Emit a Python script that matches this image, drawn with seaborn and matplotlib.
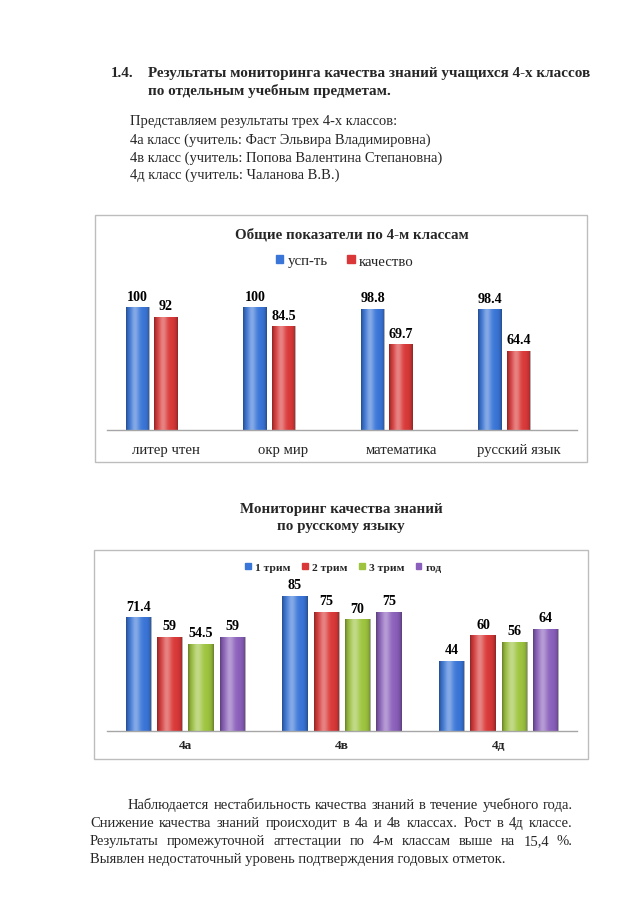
import matplotlib
matplotlib.use('Agg')
import matplotlib.pyplot as plt
import seaborn as sns
import pandas as pd
import numpy as np
from matplotlib.patches import Rectangle, Patch

W, H = 638, 903
FONT = 'Liberation Serif'

# ---------------- data ----------------
subjects = ['литер чтен', 'окр мир', 'математика', 'русский язык']
series1 = ['усп-ть', 'качество']
uspevaemost = [100, 100, 98.8, 98.4]
kachestvo = [92, 84.5, 69.7, 64.4]
chart1_title = 'Общие показатели по 4-м классам'

classes = ['4а', '4в', '4д']
periods = ['1 трим', '2 трим', '3 трим', 'год']
trim1 = [71.4, 85, 44]
trim2 = [59, 75, 60]
trim3 = [54.5, 70, 56]
god = [59, 75, 64]
chart2_title = ['Мониторинг качества знаний', 'по русскому языку']

heading_num = '1.4.'
heading = ['Результаты мониторинга качества знаний учащихся 4-х классов',
           'по отдельным учебным предметам.']
intro = ['Представляем результаты трех 4-х классов:',
         '4а класс (учитель: Фаст Эльвира Владимировна)',
         '4в класс (учитель: Попова Валентина Степановна)',
         '4д класс (учитель: Чаланова В.В.)']
conclusion = ['Наблюдается нестабильность качества знаний в течение учебного года.',
              'Снижение качества знаний происходит в 4а и 4в классах. Рост в 4д классе.',
              'Результаты промежуточной аттестации по 4-м классам выше на 15,4 %.',
              'Выявлен недостаточный уровень подтверждения годовых отметок.']

colors1 = ['#3A76D8', '#DA3838']
colors2 = ['#3A76D8', '#DA3838', '#9EC43F', '#8A60BC']

# ---------------- setup ----------------
sns.set_theme(style='white')
plt.rcParams['font.family'] = [FONT, 'DejaVu Serif']

fig = plt.figure(figsize=(W / 100, H / 100), dpi=100)
fig.patch.set_facecolor('white')
renderer = fig.canvas.get_renderer()


def fx(x):
    return x / W


def fy(y):
    return 1 - y / H


def text_w(s, size, weight='normal'):
    t = fig.text(0, 0, s, fontsize=size, fontweight=weight)
    w = t.get_window_extent(renderer).width
    t.remove()
    return w


def size_for(s, width, weight='normal'):
    return 10 * width / text_w(s, 10, weight)


def put(s, x, y, size, weight='normal', ha='left'):
    # y is the visual centre of the line; place on a baseline
    base = y + 0.30 * size * 100 / 72
    fig.text(fx(x), fy(base), s, fontsize=size, fontweight=weight, ha=ha, va='baseline')


def justify(s, x0, x1, y, size, weight='normal'):
    words = s.split(' ')
    widths = [text_w(w, size, weight) for w in words]
    gap = (x1 - x0 - sum(widths)) / (len(words) - 1)
    x = x0
    for w, wd in zip(words, widths):
        put(w, x, y, size, weight)
        x += wd + gap


def shade(ax):
    n = 64
    t = np.linspace(0, 1, n)
    hl = 0.38 * np.exp(-((t - 0.38) / 0.18) ** 2)
    dk = 0.35 * (np.abs(t - 0.5) * 2) ** 5
    img = np.zeros((1, n, 4))
    a = hl + dk
    img[0, :, 0] = img[0, :, 1] = img[0, :, 2] = hl / np.maximum(a, 1e-6)
    img[0, :, 3] = a
    for bar in list(ax.patches):
        x, y, w, h = bar.get_x(), bar.get_y(), bar.get_width(), bar.get_height()
        im = ax.imshow(img, extent=(x, x + w, y, y + h), aspect='auto',
                       zorder=bar.get_zorder() + 0.1, interpolation='bilinear')
        im.set_clip_path(bar)


def label_bars(ax, size, off_pt):
    for cont in ax.containers:
        for bar in cont:
            h = bar.get_height()
            ax.annotate(f'{h:g}', (bar.get_x() + bar.get_width() / 2, h),
                        xytext=(0, off_pt), textcoords='offset points',
                        ha='center', va='center', fontsize=size,
                        fontweight='bold', color='black', annotation_clip=False)


def style_axis(ax):
    ax.patch.set_visible(False)
    for s in ['left', 'top', 'right']:
        ax.spines[s].set_visible(False)
    ax.spines['bottom'].set_color('#a6a6a6')
    ax.spines['bottom'].set_linewidth(1.0)
    ax.set_yticks([])
    ax.set_xlabel('')
    ax.set_ylabel('')


def box(x0, y0, x1, y1):
    fig.add_artist(Rectangle((fx(x0), fy(y1)), fx(x1) - fx(x0), (y1 - y0) / H,
                             transform=fig.transFigure, fill=False,
                             ec='#bdbdbd', lw=1.0))

# ---------------- page text ----------------
hs = size_for(heading[0], 444, 'bold')
put(heading_num, 111, 72, hs, 'bold')
put(heading[0], 148, 72, hs, 'bold')
put(heading[1], 148, 90, hs, 'bold')

isz = size_for(intro[0], 268)
for s, y in zip(intro, [121, 139.5, 157.5, 174.5]):
    put(s, 130, y, isz)

csz = size_for(conclusion[3], 420)
cy = [805, 823, 841, 859]
justify(conclusion[0], 128, 573, cy[0], csz)
justify(conclusion[1], 90, 573, cy[1], csz)
justify(conclusion[2], 90, 573, cy[2], csz)
put(conclusion[3], 90, cy[3], csz)

# ---------------- chart 1 ----------------
box(95, 216, 587, 463)
df1 = pd.DataFrame({
    'subject': subjects * 2,
    'series': [series1[0]] * len(subjects) + [series1[1]] * len(subjects),
    'value': uspevaemost + kachestvo,
})
top1 = 431 - 120 * 1.228
ax1 = fig.add_axes([fx(107), fy(431), fx(577) - fx(107), (431 - top1) / H])
sns.barplot(data=df1, x='subject', y='value', hue='series', hue_order=series1,
            order=subjects, palette=colors1, width=0.48, gap=0.17,
            saturation=1, linewidth=0, ax=ax1, legend=False)
shade(ax1)
style_axis(ax1)
ax1.set_ylim(0, 120)
left1 = -(151.8 - 107) / 117.5
ax1.set_xlim(left1, left1 + 4)
ax1.set_xticks(np.arange(len(subjects)) + 0.12)
tsz1 = size_for(subjects[0], 68)
ax1.set_xticklabels(subjects, fontsize=tsz1)
for lbl in ax1.get_xticklabels():
    lbl.set_va('center')
ax1.tick_params(axis='x', length=0, pad=13.7)
vsz = size_for('98.8', 24.5, 'bold')
label_bars(ax1, vsz, 8)

fig.text(fx(351.5), fy(235), chart1_title, fontsize=size_for(chart1_title, 233, 'bold'),
         fontweight='bold', ha='center', va='center')
lsz1 = size_for(series1[1], 55)
fig.legend(handles=[Patch(color=c, label=l) for c, l in zip(colors1, series1)],
           loc='center', bbox_to_anchor=(fx(345), fy(262)), ncol=2, frameon=False,
           fontsize=lsz1, handlelength=0.5, handleheight=0.5, handletextpad=0.3,
           columnspacing=1.3, borderaxespad=0, borderpad=0)

# ---------------- chart 2 ----------------
t2sz = size_for(chart2_title[0], 203, 'bold')
fig.text(fx(341), fy(509.3), chart2_title[0], fontsize=t2sz, fontweight='bold',
         ha='center', va='center')
fig.text(fx(341), fy(526.7), chart2_title[1], fontsize=t2sz, fontweight='bold',
         ha='center', va='center')

box(94, 551, 588, 760)
vals2 = [trim1, trim2, trim3, god]
df2 = pd.DataFrame({
    'cls': classes * len(periods),
    'period': [p for p in periods for _ in classes],
    'value': [v for arr in vals2 for v in arr],
})
top2 = 731.5 - 90 * 1.586
ax2 = fig.add_axes([fx(107), fy(731.5), fx(577) - fx(107), (731.5 - top2) / H])
sns.barplot(data=df2, x='cls', y='value', hue='period', hue_order=periods,
            order=classes, palette=colors2, width=0.8, gap=0.2,
            saturation=1, linewidth=0, ax=ax2, legend=False)
shade(ax2)
style_axis(ax2)
ax2.set_ylim(0, 90)
ax2.set_xlim(-0.5, 2.5)
ax2.set_xticks(np.arange(len(classes)))
ax2.set_xticklabels(classes, fontsize=9.6, fontweight='bold')
for lbl in ax2.get_xticklabels():
    lbl.set_va('center')
ax2.tick_params(axis='x', length=0, pad=10.5)
label_bars(ax2, size_for('54.5', 24.5, 'bold'), 8)

lsz2 = size_for(periods[0], 35, 'bold')
fig.legend(handles=[Patch(color=c, label=l) for c, l in zip(colors2, periods)],
           loc='center', bbox_to_anchor=(fx(343.5), fy(568.3)), ncol=4, frameon=False,
           prop={'family': FONT, 'weight': 'bold', 'size': lsz2},
           handlelength=0.5, handleheight=0.5, handletextpad=0.35,
           columnspacing=1.0, borderaxespad=0, borderpad=0)

fig.savefig('out.png', dpi=100, facecolor='white')
